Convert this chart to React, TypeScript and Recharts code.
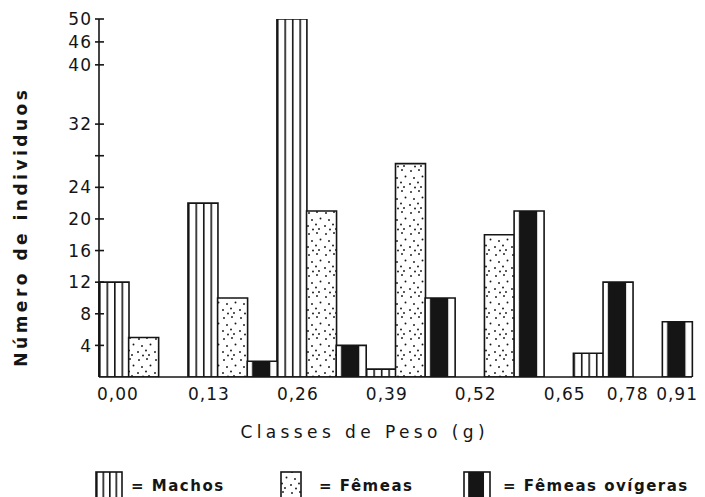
import React from 'react';
import { BarChart, Bar, XAxis, YAxis, Legend } from 'recharts';

// ---- data ----
const classLabels = ['0,00', '0,13', '0,26', '0,39', '0,52', '0,65', '0,78', '0,91'];
const machos = [12, 22, 50, 1, 0, 3, 0];
const femeas = [5, 10, 21, 27, 18, 0, 0];
const ovigeras = [0, 2, 4, 10, 21, 12, 7];
const seriesKeys = ['machos', 'femeas', 'ovigeras'];
const seriesNames = ['Machos', 'Fêmeas', 'Fêmeas ovígeras'];
const yTickValues = [4, 8, 12, 16, 20, 24, 28, 32, 40, 46, 50];
const yTickLabels = ['4', '8', '12', '16', '20', '24', '', '32', '40', '46', '50'];
// the hand-drawn value axis is compressed above 32
const yAxisKnots: [number, number][] = [[0, 0], [32, 32], [40, 39.5], [46, 42.4], [50, 45.3]];

const FONT = '"DejaVu Sans", sans-serif';
const INK = '#151515';

function warp(v: number): number {
  for (let i = 1; i < yAxisKnots.length; i++) {
    const [a0, b0] = yAxisKnots[i - 1];
    const [a1, b1] = yAxisKnots[i];
    if (v <= a1) return b0 + ((v - a0) * (b1 - b0)) / (a1 - a0);
  }
  return yAxisKnots[yAxisKnots.length - 1][1];
}

// ---- build bar slots: non-zero bars packed, an empty slot between classes with missing series ----
const seriesValues = [machos, femeas, ovigeras];
const counts = machos.map((_, c) => seriesValues.filter((s) => s[c] > 0).length);
const rows: any[] = [];
const boundaries: number[] = [];
for (let c = 0; c < machos.length; c++) {
  if (c === 0) boundaries.push(0);
  else if (counts[c] < 3) {
    boundaries.push(rows.length);
    rows.push({ slot: 'gap' + c });
  } else if (counts[c - 1] < 3) {
    rows.push({ slot: 'gap' + c });
    boundaries.push(rows.length);
  } else boundaries.push(rows.length);
  seriesKeys.forEach((k, s) => {
    const v = seriesValues[s][c];
    if (v > 0) rows.push({ slot: c + '-' + k, [k]: warp(v) });
  });
}
// class boundary i sits at the left edge of its slot; the final one at the right edge of the last slot
const tickSlots = boundaries.map((b) => rows[b].slot);
tickSlots.push(rows[rows.length - 1].slot);

const fills = ['url(#patMachos)', 'url(#patFemeas)', 'url(#patOvig)'];

const XTick = (props: any) => {
  const { x, y, payload } = props;
  const n = classLabels.length;
  let off = payload && typeof payload.offset === 'number' ? payload.offset : 0;
  if (!off && props.width) off = props.width / rows.length / 2;
  const idxs: number[] = [];
  tickSlots.forEach((s, i) => { if (s === payload.value) idxs.push(i); });
  return (
    <g>
      {idxs.map((i) => {
        const isEnd = i === n - 1;
        const bx = isEnd ? x + off : x - off;
        const anchor = isEnd ? 'end' : i === n - 2 ? 'middle' : 'start';
        const dx = isEnd ? 6 : i === n - 2 ? -5 : i === 0 ? -2 : 0;
        return (
          <text key={i} x={bx + dx} y={y + 23} textAnchor={anchor} fontFamily={FONT}
            fontSize={17} letterSpacing={1} fill={INK}>
            {classLabels[i]}
          </text>
        );
      })}
    </g>
  );
};

const YTick = (props: any) => {
  const { x, y, payload } = props;
  const i = yTickValues.findIndex((t) => Math.abs(warp(t) - payload.value) < 1e-6);
  return (
    <g>
      <line x1={x - 4} x2={x + 5} y1={y} y2={y} stroke={INK} strokeWidth={1.6} />
      <text x={x - 7} y={y} dy="0.36em" textAnchor="end" fontFamily={FONT} fontSize={17}
        letterSpacing={1} fill={INK}>
        {yTickLabels[i]}
      </text>
    </g>
  );
};

const XTitle = (props: any) => {
  const vb = props.viewBox || { x: 99, y: 377, width: 593, height: 92 };
  return (
    <text x={vb.x + vb.width * 0.448} y={vb.y + 61} textAnchor="middle" fontFamily={FONT}
      fontSize={17} letterSpacing={4.4} fill={INK}>
      Classes de Peso (g)
    </text>
  );
};

const YTitle = (props: any) => {
  const vb = props.viewBox || { x: 0, y: 19, width: 99, height: 358 };
  const cx = vb.x + 21;
  const cy = vb.y + vb.height * 0.58;
  return (
    <text x={cx} y={cy} transform={`rotate(-90 ${cx} ${cy})`} textAnchor="middle"
      dominantBaseline="central" fontFamily={FONT} fontWeight="bold" fontSize={17}
      letterSpacing={3.5} fill={INK}>
      Número de individuos
    </text>
  );
};

const Patterns = ({ suffix }: { suffix: string }) => (
  <defs>
    <pattern id={'patMachos' + suffix} patternUnits="objectBoundingBox" width="0.25" height="1">
      <rect x="0" y="0" width="1000" height="2000" fill="#fff" />
      <rect x="0" y="0" width="1.6" height="2000" fill={INK} />
    </pattern>
    <pattern id={'patFemeas' + suffix} patternUnits="userSpaceOnUse" width="17" height="21">
      <rect x="0" y="0" width="17" height="21" fill="#fff" />
      <circle cx="3" cy="3" r="0.95" fill={INK} />
      <circle cx="11" cy="2" r="0.95" fill={INK} />
      <circle cx="14.5" cy="8.5" r="0.95" fill={INK} />
      <circle cx="6" cy="10" r="0.95" fill={INK} />
      <circle cx="2" cy="16" r="0.95" fill={INK} />
      <circle cx="10" cy="14.5" r="0.95" fill={INK} />
      <circle cx="13" cy="19" r="0.95" fill={INK} />
      <circle cx="7" cy="19.5" r="0.95" fill={INK} />
    </pattern>
    <pattern id={'patOvig' + suffix} patternUnits="objectBoundingBox"
      patternContentUnits="objectBoundingBox" width="1" height="1">
      <rect x="0" y="0" width="1" height="1" fill="#fff" />
      <rect x="0.16" y="0" width="0.61" height="1" fill={INK} />
    </pattern>
  </defs>
);

const LegendContent = () => {
  const swatches = [
    { x: 96, w: 26, tx: 131 },
    { x: 281, w: 20, tx: 319 },
    { x: 464, w: 26, tx: 503 },
  ];
  return (
    <div style={{ height: 28 }}>
      <svg width={705} height={28} style={{ display: 'block' }}>
        <Patterns suffix="L" />
        {swatches.map((s, i) => (
          <g key={i}>
            <rect x={s.x} y={3} width={s.w} height={30}
              fill={`url(#${['patMachos', 'patFemeas', 'patOvig'][i]}L)`}
              stroke={INK} strokeWidth={1.6} />
            <text x={s.tx} y={22} fontFamily={FONT} fontWeight="bold" fontSize={15}
              letterSpacing={1.5} fill={INK}>
              {'= ' + seriesNames[i]}
            </text>
          </g>
        ))}
      </svg>
    </div>
  );
};

export default function App() {
  return (
    <div style={{ position: 'absolute', left: 0, top: 0, width: 705, height: 497, background: '#fff' }}>
      <BarChart width={705} height={497} data={rows}
        margin={{ top: 19, right: 13, bottom: 0, left: 0 }}
        barCategoryGap={0} barGap={0}>
        <Patterns suffix="" />
        <XAxis dataKey="slot" type="category" ticks={tickSlots} interval={0} height={92}
          tickSize={0} tickMargin={0} tickLine={false} tick={<XTick />}
          axisLine={{ stroke: INK, strokeWidth: 1.6 }} label={<XTitle />} />
        <YAxis type="number" domain={[0, warp(50)]} ticks={yTickValues.map(warp)}
          allowDataOverflow interval={0} width={99} tickSize={0} tickMargin={0}
          tickLine={false} tick={<YTick />} axisLine={{ stroke: INK, strokeWidth: 1.6 }}
          label={<YTitle />} />
        {seriesKeys.map((k, i) => (
          <Bar key={k} dataKey={k} name={seriesNames[i]} stackId="s"
            fill={fills[i]} stroke={INK} strokeWidth={1.6} isAnimationActive={false} />
        ))}
        <Legend verticalAlign="bottom" align="left" height={28} content={<LegendContent />}
          wrapperStyle={{ left: 0, bottom: 0, width: 705 }} />
      </BarChart>
    </div>
  );
}
